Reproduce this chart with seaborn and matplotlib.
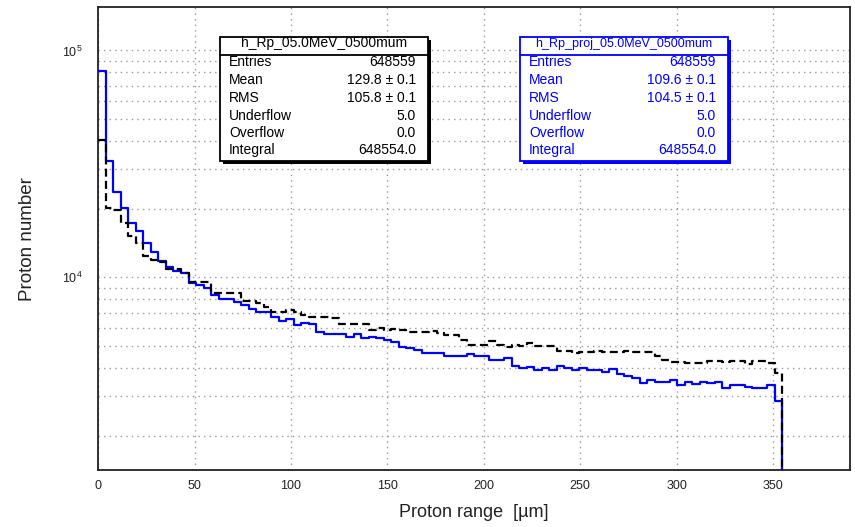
import numpy as np
import pandas as pd
import matplotlib
matplotlib.use("Agg")
import matplotlib.pyplot as plt
import seaborn as sns
from matplotlib.patches import Rectangle
from matplotlib.ticker import LogLocator, MultipleLocator, NullFormatter

# ---------------- data (100 bins, 0 .. 390 um) ----------------
bin_lo, bin_hi, n_bins = 0.0, 390.0, 100

# h_Rp_proj (blue, solid) -- counts per bin, empty bins = 0
proj_counts = [
    81600, 32700, 23800, 20200, 17300, 16000, 14200, 12950, 11800, 11100,
    10700, 10430, 9430, 9270, 8960, 8370, 8010, 8010, 7820, 7560,
    7240, 7070, 7070, 6670, 6450, 6540, 6170, 6320, 6240, 5770,
    5640, 5640, 5640, 5480, 5640, 5400, 5480, 5400, 5300, 5210,
    4950, 4880, 4790, 4660, 4660, 4660, 4510, 4510, 4510, 4590,
    4510, 4510, 4330, 4330, 4400, 4070, 3980, 4040, 3910, 3980,
    3910, 4070, 3980, 3910, 3980, 3910, 3910, 3840, 3940, 3750,
    3680, 3590, 3440, 3530, 3450, 3450, 3530, 3357, 3472, 3390,
    3472, 3425, 3472, 3266, 3357, 3357, 3300, 3266, 3266, 3357,
    2854, 0, 0, 0, 0, 0, 0, 0, 0, 0,
]

# h_Rp (black, dashed)
rp_counts = [
    40500, 20300, 19800, 17300, 15200, 14200, 12450, 11900, 11740, 10870,
    10870, 10430, 9580, 9580, 9580, 8570, 8570, 8570, 8570, 7900,
    7900, 7700, 7400, 7070, 7070, 7150, 7070, 6800, 6670, 6670,
    6670, 6600, 6220, 6220, 6220, 6220, 5870, 6000, 5870, 5950,
    5870, 5770, 5770, 5770, 5800, 5700, 5580, 5580, 5300, 5045,
    5045, 5045, 5250, 5045, 4954, 5045, 5000, 5160, 4990, 4990,
    4990, 4750, 4750, 4630, 4710, 4700, 4720, 4710, 4690, 4710,
    4720, 4700, 4710, 4710, 4505, 4326, 4252, 4239, 4184, 4184,
    4184, 4296, 4296, 4239, 4296, 4296, 4155, 4296, 4296, 4184,
    3780, 0, 0, 0, 0, 0, 0, 0, 0, 0,
]

stat_labels = ["Entries", "Mean", "RMS", "Underflow", "Overflow", "Integral"]
rp_title = "h_Rp_05.0MeV_0500mum"
rp_stats = ["648559", "129.8 \u00b1 0.1", "105.8 \u00b1 0.1", "5.0", "0.0", "648554.0"]
proj_title = "h_Rp_proj_05.0MeV_0500mum"
proj_stats = ["648559", "109.6 \u00b1 0.1", "104.5 \u00b1 0.1", "5.0", "0.0", "648554.0"]

x_title = "Proton range  [\u00b5m]"
y_title = "Proton number"

# ---------------- figure ----------------
sns.set_theme(style="white")
plt.rcParams["font.family"] = ["Liberation Sans", "DejaVu Sans"]

W, H = 855, 527
fig = plt.figure(figsize=(W / 100, H / 100), dpi=100)
ax_l, ax_r, ax_t, ax_b = 98.3, 850.0, 7.3, 470.0
ax = fig.add_axes([ax_l / W, 1 - ax_b / H, (ax_r - ax_l) / W, (ax_b - ax_t) / H])

edges = np.linspace(bin_lo, bin_hi, n_bins + 1)
centers = 0.5 * (edges[:-1] + edges[1:])
# empty bins are floored below the visible range so the step drops to the axis
df = pd.DataFrame({
    "x": np.concatenate([centers, centers]),
    "w": np.clip(np.concatenate([proj_counts, rp_counts]).astype(float), 1.0, None),
    "h": ["proj"] * n_bins + ["rp"] * n_bins,
})

sns.histplot(data=df[df.h == "proj"], x="x", weights="w", bins=edges.tolist(),
             element="step", fill=False, color="#0000ff", linewidth=1.6,
             ax=ax, zorder=3)
sns.histplot(data=df[df.h == "rp"], x="x", weights="w", bins=edges.tolist(),
             element="step", fill=False, color="black", linewidth=1.6,
             linestyle=(0, (3.6, 1.9)), ax=ax, zorder=4)

ax.set_yscale("log")
ax.set_xlim(bin_lo, bin_hi)
ax.set_ylim(1416, 155000)

ax.xaxis.set_major_locator(MultipleLocator(50))
ax.xaxis.set_minor_locator(MultipleLocator(10))
ax.yaxis.set_major_locator(LogLocator(base=10))
ax.yaxis.set_minor_locator(LogLocator(base=10, subs=np.arange(2, 10)))
ax.yaxis.set_minor_formatter(NullFormatter())

ax.tick_params(axis="x", which="major", direction="in", length=11, width=1.2,
               colors="#222222", labelsize=9, pad=7, top=False)
ax.tick_params(axis="x", which="minor", direction="in", length=6.5, width=1.2,
               top=False, color="#222222")
ax.tick_params(axis="y", which="major", direction="in", length=16.5, width=1.2,
               colors="#222222", labelsize=9, pad=11, right=False)
ax.tick_params(axis="y", which="minor", direction="in", length=8, width=1.2,
               right=False, color="#222222")

ax.grid(True, axis="x", which="major", linestyle=(0, (1, 3)), color="#9a9a9a", linewidth=1.0)
ax.grid(True, axis="y", which="both", linestyle=(0, (1, 3)), color="#9a9a9a", linewidth=1.0)
ax.set_axisbelow(True)

for sp in ax.spines.values():
    sp.set_color("#222222")
    sp.set_linewidth(1.3)

ax.set_xlabel(x_title, fontsize=13, color="#222222")
ax.set_ylabel(y_title, fontsize=13.5, color="#222222")
ax.xaxis.set_label_coords(0.5, (ax_b - 504) / (ax_b - ax_t))
ax.yaxis.set_label_coords((36 - ax_l) / (ax_r - ax_l), 0.5)


# ---------------- stat boxes ----------------
def fx(px):
    return px / W


def fy(py):
    return 1 - py / H


def stat_box(x0, x1, title, title_size, values, color):
    y0, ysep, y1 = 37.3, 55.0, 161.0
    sh = 3.0
    fig.add_artist(Rectangle((fx(x0 + sh), fy(y1 + sh)), fx(x1 - x0), (y1 - y0) / H,
                             transform=fig.transFigure, facecolor=color,
                             edgecolor="none", zorder=10))
    fig.add_artist(Rectangle((fx(x0), fy(y1)), fx(x1 - x0), (y1 - y0) / H,
                             transform=fig.transFigure, facecolor="white",
                             edgecolor=color, linewidth=1.3, zorder=11))
    fig.add_artist(plt.Line2D([fx(x0), fx(x1)], [fy(ysep), fy(ysep)],
                              transform=fig.transFigure, color=color,
                              linewidth=1.3, zorder=12))
    fig.text(fx((x0 + x1) / 2), fy(43.5), title, ha="center", va="center",
             fontsize=title_size, color=color, zorder=13)
    rows = [61.7, 80.0, 98.3, 116.0, 133.3, 150.0]
    for lab, val, ry in zip(stat_labels, values, rows):
        fig.text(fx(x0 + 9), fy(ry), lab, ha="left", va="center",
                 fontsize=10, color=color, zorder=13)
        fig.text(fx(x1 - 12), fy(ry), val, ha="right", va="center",
                 fontsize=10, color=color, zorder=13)


stat_box(220.0, 428.0, rp_title, 10, rp_stats, "black")
stat_box(520.0, 728.0, proj_title, 9, proj_stats, "#0000ff")

fig.savefig("out.png", dpi=100, facecolor="white")
